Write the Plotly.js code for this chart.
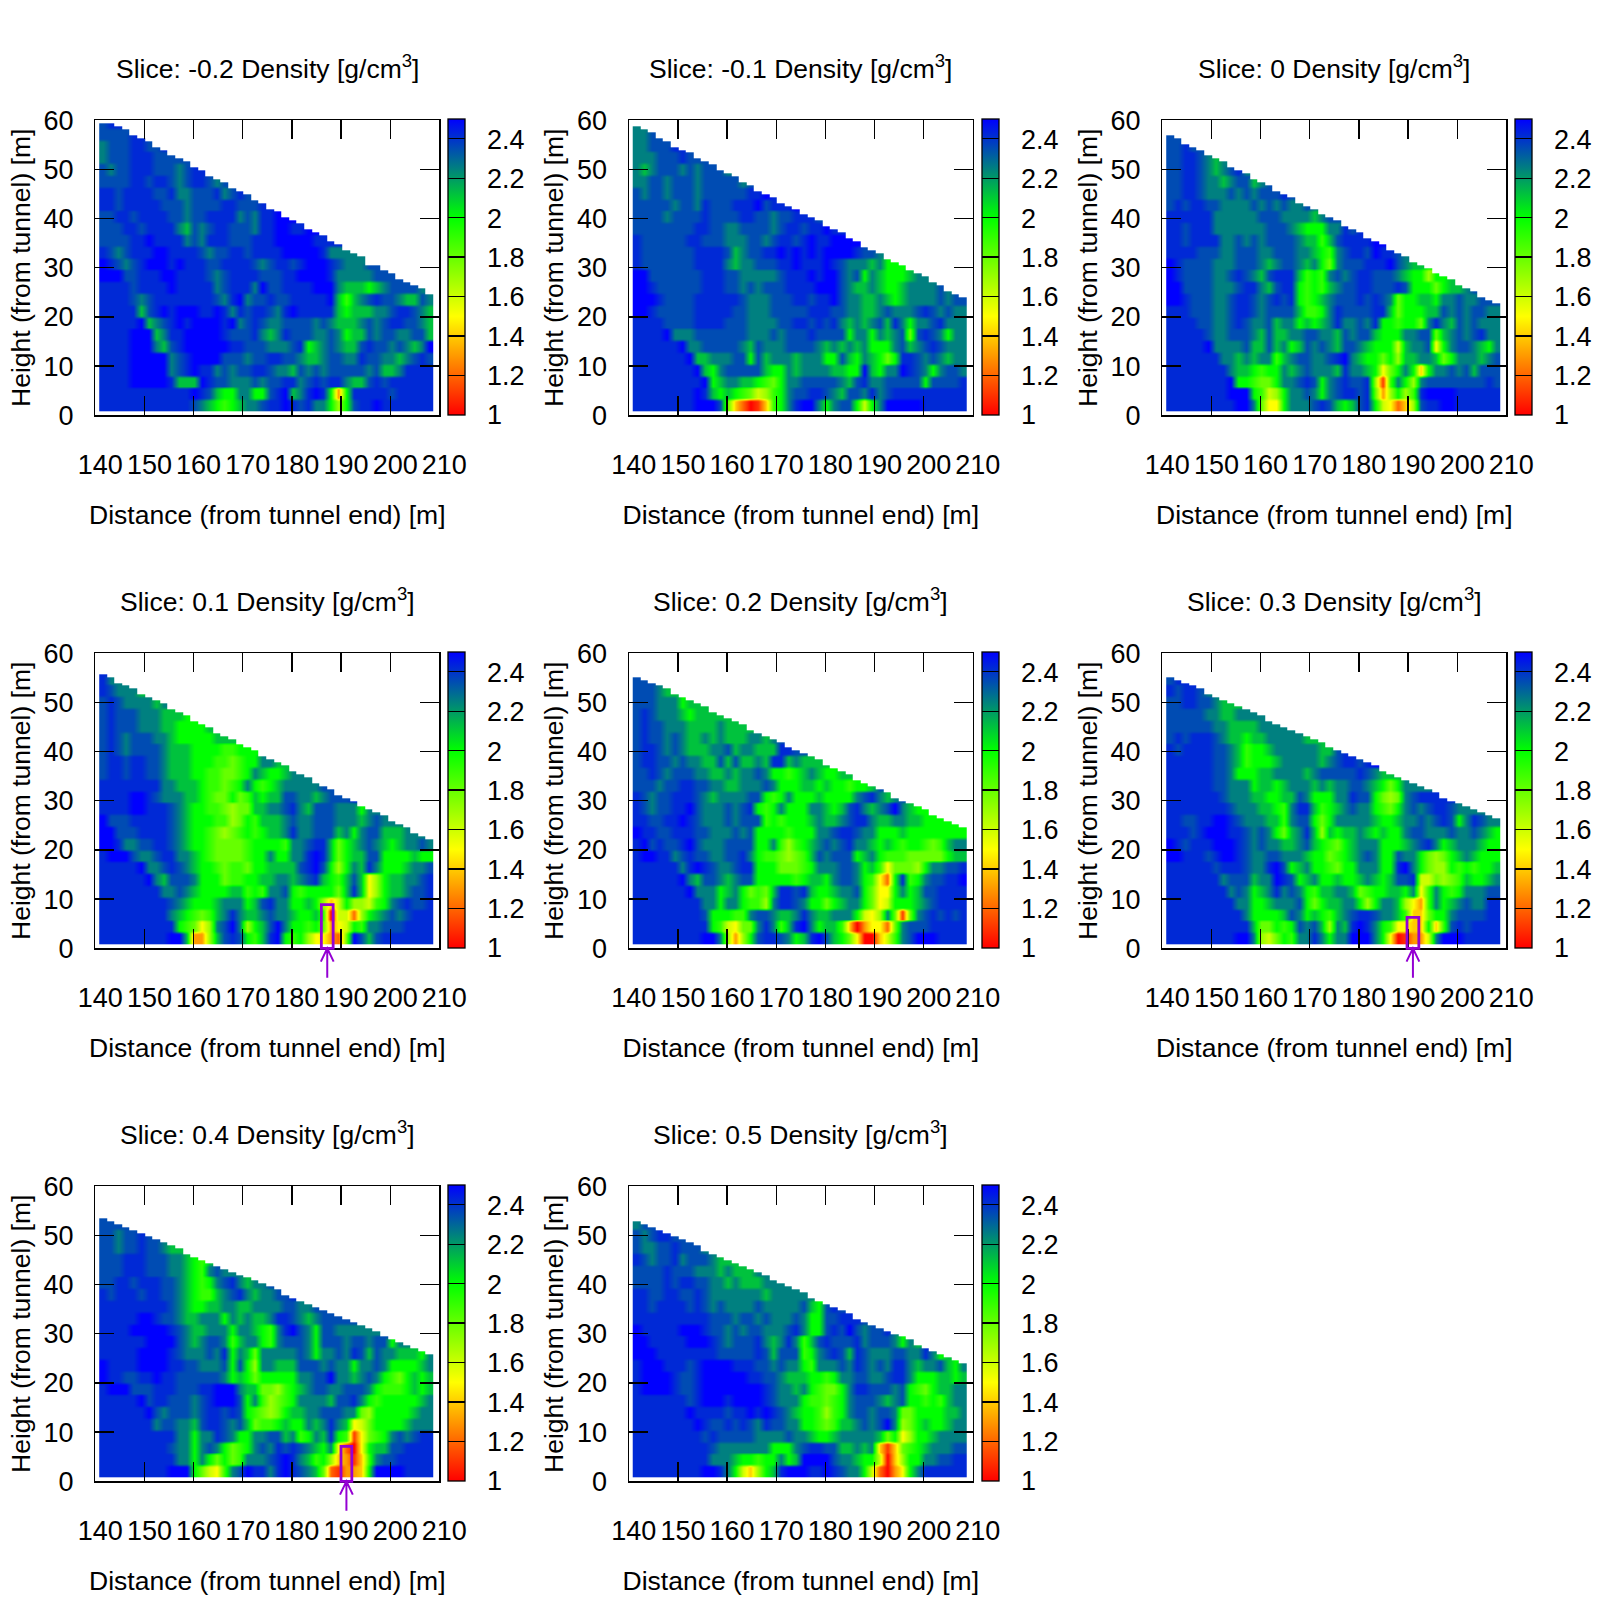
<!DOCTYPE html>
<html>
<head>
<meta charset="utf-8">
<script src="https://cdn.plot.ly/plotly-3.0.1.min.js"></script>
<style>body { margin: 0; background: #fff; }</style>
</head>
<body>
<div id="chart"></div>
<script>
// Slice positions, one panel each
const sliceLabels = ["-0.2", "-0.1", "0", "0.1", "0.2", "0.3", "0.4", "0.5"];
const xTicks = [140, 150, 160, 170, 180, 190, 200, 210];
const yTicks = [0, 10, 20, 30, 40, 50, 60];
const densityTicks = [1, 1.2, 1.4, 1.6, 1.8, 2, 2.2, 2.4];

// Density. One hex digit per cell, looked up in densityLevels.
// Rows run bottom to top in 2.4 m bands, columns left to right.
const densityLevels = [1, 1.1, 1.2, 1.3, 1.4, 1.5, 1.6, 1.7, 1.8, 1.9, 2, 2.12, 2.25, 2.35, 2.42, 2.5];
const sliceM02 = [
  "eeeeeeeeeeeedcba9abccdeefedecca7adeefeeeeeee",
  "eeeeeeeeeeeefedbaaccaadefbcefea3aeeeeedeeeee",
  "eeeefffffebbbfeddcccdcddeecdedeecbbdedeeeeee",
  "eeeefffffcdefeecdcddeedccbdcdcdddddcdbbceeee",
  "eeeefffffcdeffffdddcddeeddcbbcddcceddccbcded",
  "eeeefffcbdeffffffeedddcccdeabcdcbbdeddcdcbcf",
  "eeeefffbceefffffedddecbcedddccdcabbdcddccddb",
  "eeeeefbcdefeffffefcdedccddddcdcbbbcdcdeeddcb",
  "eeeeebdefefffeefecedeedcefeeeeebabbbccdeedcb",
  "eeeedcdeeeeeeeedcefcddeddeeeeefb9bcdeddcbbdc",
  "eeeedeeeefeeeeecdeeecfddeeeefffcbbbabcddddcc",
  "fffddeeeffeeeedcdeeeedddeeffffecccccdddddd",
  "fedcdefffefeeeddeeeedcdeedefffedcccdd",
  "edcdeeeffeeeedcddeedeeeefffffecccc",
  "ddddeefeeeecdceeedddeeefffffee",
  "dddeedeeeecbdcdeedddceeffeeff",
  "ddeedeeeeddcddeeeecdceefffe",
  "eedeeeeedddcddddeedddeee",
  "eedeeeeddeccdddecdedeee",
  "ddddeedeedcdeedcdeee",
  "dcddeeedddcdeeed",
  "cdddeeedddddee",
  "cdddeedde",
  "ddddee",
  "deee"
];
const sliceM01 = [
  "eeeeeeeefffd8420149aceffcacdda6acfffffeeeeee",
  "eeeeeeeefebaba98679acddeedcbddcecdeeeeeeeeee",
  "eeeeeeeeefabccbba98accdddddcbdeccdddddadddde",
  "eeeeeeeefbacdddddbaacbccccbbaafbaccfedcacddc",
  "eeeeeeefbbcccddadbcccbcccaadbacba8aeedcdcbcc",
  "eeeeeefccdddddcbdcccddddcbcbcbcaaacdbcdedccc",
  "eeeefcccdddddddcccdcdddeddddaccacbcd8dedcacc",
  "eeeeddddeeeedddccccddeededecbcbcdbecaccdeccc",
  "ffedddddeeeeeddcccdddddeeeddccbbcdcccdedcdcc",
  "fffeddddeeeeeedcccdddeedeefdccbbcbabccccdcdd",
  "ffeddddddeeeddcdcdddeeeefffdcbbcbaabccccdc",
  "ffdddddddeeeddcccccdeeefeffdcdacbaaabccc",
  "edddddddeeeecbccdddeefeeefedcccbcaaabbc",
  "edddddddeeeedbcddeefefefeffffeddcbaaa",
  "eddddddeedddcccddcdeedefeeffffffcb",
  "ddddddddeeddccddddcdeedeefeeeff",
  "ddddcddddeddddeeddcddeeedeefe",
  "dddddcddcedddeeefdeeeff",
  "dcddcdddcddddddeefeff",
  "ccddcdddcdddddcdff",
  "cbcdddcdcdddc",
  "cccdddedddd",
  "ccdddeed",
  "ccdde",
  "cd"
];
const slice00 = [
  "eeeeeeeeeffc855acccdedbabdea65247deeffeeeeee",
  "eeeeeeeefffa967accdcacdeede837a79effffeeeeee",
  "eeeeeeeefaa988accdedacdedde719ca7cdddddddded",
  "eeeeeeeecbba9aacbcdcccbeccba58aca4accdcdbddd",
  "eeeeeeeccbcbcc9bcddccdefcbaa8a7bbccb8acccbcd",
  "eeeeefccccdbbdbcabdcdcbddcbaaa6bccd5acddcbac",
  "eeeeedccdddcbdbbccddccbdcddbaaaccdd8bcdcdecc",
  "eeeeddccdedccdbccababceccdceaa9aa8cecbdcdccc",
  "eeedddccdeedcddddb99aceddddeeb8aaabbdcdcddcc",
  "ffedddccdeedcdedea9abcdddededc8aabbaccdccd",
  "ffddddcccdeecbdeea9a9bcddeedddedaaa8abbcdd",
  "feddddccdedcbdeeeb9a9cdcdeedddcbaa7aabccc",
  "feddddcccdddcbcddcbca8cdddeeefdcbbaaaabcc",
  "eeeedddccdddccdddccba9cdeedfeedcdbbaab",
  "eedeeeeccdcdcddddcbb9bdeeeeffeddcbb",
  "eedeeecccccccdddcbaaaccedeeff",
  "eeeeeeccccccdddccccbcddedee",
  "dedeeddccccdcdcdccdcded",
  "ddeedcccdcdcdddedcc",
  "ddeedccbcddbcdddcb",
  "ddeedcbcdecbc",
  "ddeedcbc",
  "ddedd",
  "dd"
];
const slice01 = [
  "eeeeeeeeeffb337bdeda9befa9a755328fdbdeeeeeee",
  "eeeeeeeeeea9857cdfc7abdfcaa9a8356a9ccdddeeee",
  "eeeeeeeeecba989bcecbbcdccbaab906627abcdcdeee",
  "eeeeeeeeedcbaaabcccabdeccaaba746a7769acdedde",
  "eeeeeeeeccdcbaaaabb9a9ccda9aaaa8beb57abbcdde",
  "eeeeeefcbdddcaaa899aabbccbcdeba9bdb57abbccde",
  "eeeeefccdedcbaa98998aabbbbdefda7acbecaaabccd",
  "efffdccdeeccba988889aacaaccefeb8abbddaaaabaa",
  "ffeccddeedcbaa988889aaaa9ccdeeb8abcdcbabccdc",
  "ffdddeeeedcbaa98789a9abbceccdddbcacddbbbcc",
  "fdddeeeeedcbaaa9978a9bbbcdccdddcccbcdcc",
  "eeeeffeeedcbaa998788bbccdecbdddcccac",
  "eeeeffedcccbba988a89babbddccbcddde",
  "eeeeeeeeccbbba9989aca9abcccccdd",
  "deedeeddcbbbaa99889acbaabccc",
  "deedeeddcbbbaaa9989aaccbbbb",
  "dedcddddcbbbaaaa99aaabb",
  "dedcdddccbaaaaabbb",
  "dedddcccbbaaaabb",
  "dedddcccbbba",
  "dedccccbcbba",
  "edcccbb",
  "ecc"
];
const slice02 = [
  "eeeeeeeeeffc737adeedcabefdba8500469cdfffeeee",
  "eeeeeeeeeea96588cec9befcabb94035528cdddeeeee",
  "eeeeeeeeedaaa99cddcbbcecbbccca657c818cdedede",
  "eeeeeeeeeccacca997ceedcaa8abcca856aaabcdeeee",
  "eeeeeeefcccabca898beedebaabccda855acabddeeee",
  "eeeeeefcbddcbcddaaaaa9abbacddca952ae9acddeef",
  "eeeeeecefedccdeeaaa8889acccddcab958887accdde",
  "effeecdeddccddeca998789bdcdddabca99988888abb",
  "efdeddefdcccddddaac979abcdcdeccbaba9aa989bcc",
  "feeddeeeddcccdcdaaaa9aaaccdeedccaaabaaaaaa",
  "eeddeefedcccdcddd9a9aaabcbbcdeecbbccbbaa",
  "edcddeefdcccdcdea9acaaaccbabdecbcdfcba",
  "edcddeeedcbccccdda9acaaabaaaacdecbcde",
  "dddcddeeddccbbcccdcaaabbabaa9aabde",
  "ddedcdddccbbcbccdcaa9abcbaabbbb",
  "deeddcdccbbdbdbbcbeebcbbb",
  "deedcdcbbbccdbccbbbeed",
  "deddcdcbbcbcbbbccbcd",
  "deddcccbbbbcbbbbb",
  "dedcccbabbbbb",
  "dddcccabbb",
  "dddcbbb",
  "ddd"
];
const slice03 = [
  "eeeeeeeeeffc768a9ccecaccfffca501336cfffeeeee",
  "eeeeeeeeeeeb88a9adcdb7cbefeca95544a49dedeeee",
  "eeeeeeeeeecaaaabdcaba9bcdeedccb9448aacddddee",
  "eeeeeeeeeccaabcccda8abbcca7accb7539cabcdccee",
  "eeeeeeeecdcabcecdca9bbccb89aabbac59ca9acccdd",
  "eeeeeeecdddbccfedabcaabaabcbabdde668789baabc",
  "eeeeeedeeedccefdabcaa98aacccaaefca877a9a9aab",
  "ffeeedeffedccddcccbaa89abcdcaadcca878abcbaaa",
  "fedeeefffedcdccbbcdba98abcccaaabcdecabcccbaa",
  "eeedefffeedcdca8bceb7babbcbabaacddcccdccdcba",
  "eeddeeffedcccbb9cdda8acccccbaabccdcdedacedcc",
  "eeeeeeeedcccbba9ceeb9abcdcca98acdcdeedc",
  "eeeeeeedcccbbaabbdcaaaccedda878cdeee",
  "eeeeeeddcccabbabcccbcbccddcba8ac",
  "eeeeeeddcaaabbccccbcdddddedcb",
  "eeeeeeddcb9aaabcccccbcdeedefdc",
  "edeeeeddcb9aabccccccbbdeeeee",
  "dedeeedcbbabbcccccbbbb",
  "ddddddccbbbbccccccc",
  "dddddccbbcccccc",
  "ddeeddcbbbc",
  "edeedcc",
  "dee"
];
const slice04 = [
  "eeeeeeeeefffa8659cdfeecefedcb821334affffeeee",
  "eeeeeeeeeeccaca8a89cccdefecb9a743149cddeeeee",
  "eeeeeeeeedccacdca89acdcededcbac5205abbddeeee",
  "eeeeeeeeeeccaccedcaaccddbc9acbea91589acdcdee",
  "eeeeeeecddccbdeedcdb899abaacbcecb568aaaabccc",
  "eeeeeefdcdddcdeededa9878abbccdddcc87aaaaabcc",
  "eeeeefdeedddcdefffdac9789accccbddeca9aaaaabc",
  "efffdddeeedddeefffcbb8879abcddccdddca999abab",
  "feeddeefeeddddddcaba8aaaaaccddfccbcdca98abab",
  "feeeeffffeeddcccdada7ccbbbdddcdccaccdcaaaabc",
  "eeeeeffffedcccdceacb8cccccdcaccdcedbdccbbbac",
  "eeeeeeffffdcbcddc9bcca9cdddcadddcddcddaccd",
  "eeeefffffedcbbcccaccba9cefdcaddcccccc",
  "eeeeeffeddcbbcccacbcbbceedcbcdddd",
  "eeeeeeeeedcbaabbccbbccccddccdd",
  "edeeedeeddcba99bcdecbccdde",
  "ddeedeeeddcba9acdecbccd",
  "dddeeedddccba9cdcccc",
  "dddeeedddccba9bcc",
  "ddcddeddcbbb",
  "ddcddedd",
  "dddd"
];
const slice05 = [
  "eeeeeeeeeffeca647abefffeefedcca62035aceeeeee",
  "eeeeeeeeeecccbaa9aacabffffdccbaa6047aaccddee",
  "eeeeeeeeeedcccccccaaacdeeddbbcbc41489abcccdd",
  "eeeeeeeeededddddccccdccbaabcccccb8a57aabcccc",
  "eeeeeeeefeddededceddccaa989bbcdcdfc78abaabcc",
  "eeeeeeefeeeedeefefedcbaa979acddcddc88aaaabbc",
  "eeeeeeedefffeffffedccca9989acdddcbcdaa9a9bcc",
  "effffeddeffffffffedccbca988aceedddcda98abbcc",
  "effffeddeffffffeeddcbbbaa9accddccdeecaaabbab",
  "efffeeedeffffeeeddcdcca9cccdcedcdceecbccdbac",
  "fffeeeeeeeedddddedbddd9acdedbedcccddccecabac",
  "ffeeeeefffedcdddecbcec9bdedddecdddcacbbcb",
  "feeeeefffeddcdcddcccdecaadedfdcddecab",
  "eeeeeeeeeedddcddcdcccdcaaddeeedddeeec",
  "eedeeeededcdccccdcccccdbadedeeed",
  "eeddeeddedcccccccbccccccaacdeeed",
  "ddddedeeddccbcbbbcccccbbce",
  "ddddedddcccbcbbbccccd",
  "edcddecdddcbbbbc",
  "dccddedddc",
  "dcdeeddd",
  "cddee"
];
const sliceRows = [sliceM02, sliceM01, slice00, slice01, slice02, slice03, slice04, slice05];

// Height of the ground surface over each of the 44 columns, per slice
const topM02 = [59.7, 59.7, 59.2, 58.6, 57.2, 56.7, 56, 54.7, 54, 52.8, 52.2, 51.5, 50.3, 49.8, 48.6, 48, 47.4, 46.2, 45.6, 45, 43.8, 43.2, 42, 41.5, 40.4, 39.8, 39.2, 38, 37.4, 36.8, 35.6, 35, 33.6, 33, 32.4, 31, 30.6, 29.4, 28.8, 27.6, 27, 26.4, 25.8, 24.6];
const topM01 = [59.2, 58.6, 58, 56.8, 56.1, 55, 54.4, 53.8, 52.6, 52, 51.4, 50.1, 49.5, 48.9, 47.7, 47.1, 45.9, 45.3, 44.7, 43.5, 42.9, 42.3, 41.1, 40.5, 39.9, 38.7, 38.1, 37.5, 36.3, 35.7, 34.5, 33.9, 33.3, 32.1, 31.5, 30.9, 29.7, 29.1, 28.5, 27.3, 26.7, 25.5, 24.9, 24.3];
const top00 = [57.4, 56.8, 55.5, 55, 54.3, 53.1, 52.5, 51.9, 50.7, 50.1, 49.5, 48.3, 47.7, 47.1, 45.9, 45.3, 44.7, 43.5, 42.9, 42.3, 41.1, 40.5, 39.9, 38.7, 38.1, 37.5, 36.3, 35.7, 35.1, 33.9, 33.3, 32.7, 31.5, 30.9, 30.3, 29.1, 28.5, 27.9, 26.7, 26.1, 25.5, 24.3, 23.7, 23.1];
const top01 = [56.1, 55.5, 54.3, 53.7, 53, 51.9, 51.3, 50.7, 50.1, 48.9, 48.3, 47.7, 46.5, 45.9, 45.3, 44.1, 43.5, 42.9, 41.7, 41.1, 40.5, 39.3, 38.7, 38.1, 37.5, 36.3, 35.7, 35.1, 33.9, 33.3, 32.7, 31.5, 30.9, 30.3, 29.1, 28.5, 27.9, 27.3, 26.1, 25.5, 24.9, 23.7, 23.1, 22.5];
const top02 = [55.5, 54.9, 54.3, 53.7, 53, 51.9, 51.3, 50.7, 50.1, 49.5, 48.3, 47.7, 47.1, 46.5, 45.9, 44.7, 44.1, 43.5, 42.9, 42.3, 41.1, 40.5, 39.9, 39.3, 38.7, 37.5, 36.9, 36.3, 35.7, 34.5, 33.9, 33.3, 32.7, 32.1, 30.9, 30.3, 29.7, 29.1, 28.5, 27.3, 26.7, 26.1, 25.5, 24.9];
const top03 = [55.5, 54.9, 54.3, 53.7, 53, 51.9, 51.3, 50.7, 50.1, 49.5, 48.9, 48.3, 47.7, 46.5, 45.9, 45.3, 44.7, 44.1, 43.5, 42.9, 42.3, 41.1, 40.5, 39.9, 39.3, 38.7, 38.1, 37.5, 36.3, 35.7, 35.1, 34.5, 33.9, 33.3, 32.7, 32.1, 30.9, 30.3, 29.7, 29.1, 28.5, 27.9, 27.3, 26.7];
const top04 = [53.6, 53, 52.4, 51.8, 51.2, 50.5, 49.9, 49.3, 48.7, 48.1, 47.5, 46.4, 45.7, 45.1, 44.5, 43.9, 43.3, 42.7, 42.1, 41.5, 40.9, 40.3, 39.7, 39.1, 37.9, 37.3, 36.7, 36.1, 35.5, 34.9, 34.3, 33.7, 33.1, 32.5, 31.9, 31.3, 30.7, 29.5, 28.9, 28.3, 27.7, 27.1, 26.5, 25.9];
const top05 = [52.9, 52.3, 51.7, 51.2, 50.5, 49.9, 49.3, 48.7, 48.1, 47, 46.4, 45.7, 45.1, 44.5, 43.9, 43.3, 42.7, 42.1, 40.9, 40.3, 39.7, 39.1, 38.5, 37.3, 36.7, 36.1, 35.5, 34.9, 34.3, 33.1, 32.5, 31.9, 31.3, 30.7, 30.1, 29.5, 28.9, 27.7, 27.1, 26.5, 25.9, 25.3, 24.7, 24.1];
const sliceTops = [topM02, topM01, top00, top01, top02, top03, top04, top05];

// Purple marker boxes: which panel, left and right distance, box height
const boxPanels = [3, 5, 6];
const boxLeft = [186, 189.8, 190];
const boxRight = [188.4, 192.2, 192.2];
const boxTop = [8.9, 6.3, 7.1];

const densityColors = [
  [0, "#ff0000"],
  [1 / 3, "#ffff00"],
  [2 / 3, "#00ff00"],
  [1, "#0000ff"]
];

const PAGE = 1600;
const COL_LEFT = [95.3, 628.8, 1162.3];
const ROW_TOP = [120.3, 653.3, 1186.3];
const PANEL_W = 344;
const PANEL_H = 295;
const CELL_W = 1.545;
const CELL_H = 0.6;
const FIRST_X = 140.8;
const FIRST_Y = 0.8;
const CELLS_PER_BAND = 4;
const FAMILY = "Liberation Sans, Arial, sans-serif";
const TEXT_FONT = { family: FAMILY, size: 26.5, color: "#000" };
const TICK_FONT = { family: FAMILY, size: 27, color: "#000" };
const PURPLE = "#9400d3";

const buildGrid = (rows, tops) => {
  const grid = [];
  for (let j = 0; j < 100; j++) {
    const band = rows[Math.min(Math.floor(j / CELLS_PER_BAND), rows.length - 1)];
    const line = tops.map((top, col) => {
      const cellsHigh = Math.round((top - FIRST_Y) / CELL_H);
      if (j >= cellsHigh) return null;
      return densityLevels[parseInt(band[Math.min(col, band.length - 1)], 16)];
    });
    grid.push(line);
  }
  return grid;
};

const paperY = (panel, height) => {
  const top = ROW_TOP[Math.floor(panel / 3)];
  return 1 - (top + PANEL_H * (1 - height / 60)) / PAGE;
};

const traces = [];
const annotations = [];
const shapes = [];
const layout = {
  width: PAGE,
  height: PAGE,
  margin: { t: 0, r: 0, b: 0, l: 0 },
  paper_bgcolor: "#fff",
  plot_bgcolor: "#fff",
  showlegend: false,
  font: TEXT_FONT,
  annotations: annotations,
  shapes: shapes
};

sliceLabels.forEach((label, i) => {
  const left = COL_LEFT[i % 3];
  const top = ROW_TOP[Math.floor(i / 3)];
  const id = i === 0 ? "" : String(i + 1);

  traces.push({
    type: "heatmap",
    x0: FIRST_X + CELL_W / 2,
    dx: CELL_W,
    y0: FIRST_Y + CELL_H / 2,
    dy: CELL_H,
    z: buildGrid(sliceRows[i], sliceTops[i]),
    xaxis: "x" + id,
    yaxis: "y" + id,
    zmin: 1,
    zmax: 2.5,
    zsmooth: "best",
    colorscale: densityColors,
    hoverinfo: "skip",
    colorbar: {
      x: (left + 353) / PAGE,
      xanchor: "left",
      xpad: 0,
      y: 1 - (top - 1.3) / PAGE,
      yanchor: "top",
      ypad: 0,
      len: (PANEL_H + 1.3) / PAGE,
      lenmode: "fraction",
      thickness: 17.4,
      thicknessmode: "pixels",
      outlinecolor: "#000",
      outlinewidth: 1.3,
      tickmode: "array",
      tickvals: densityTicks,
      ticks: "inside",
      ticklen: 17.4,
      tickwidth: 1.3,
      tickcolor: "#000",
      showticklabels: false
    }
  });

  // Colour bar labels sit well clear of the bar, so they are placed by hand
  densityTicks.forEach((d) => {
    annotations.push({
      xref: "paper",
      yref: "paper",
      x: (left + 390) / PAGE,
      y: 1 - (top + PANEL_H * (2.5 - d) / 1.5) / PAGE,
      xanchor: "left",
      yanchor: "middle",
      showarrow: false,
      font: TICK_FONT,
      text: String(d)
    });
  });

  layout["xaxis" + id] = {
    domain: [left / PAGE, (left + PANEL_W) / PAGE],
    anchor: "y" + id,
    range: [140, 210],
    tickmode: "array",
    tickvals: xTicks,
    ticks: "inside",
    ticklen: 19,
    tickwidth: 1.3,
    tickcolor: "#000",
    ticklabelstandoff: 25,
    ticklabelshift: 5,
    showline: true,
    linecolor: "#000",
    linewidth: 1.3,
    mirror: "ticks",
    showgrid: false,
    zeroline: false,
    tickfont: TICK_FONT,
    title: { text: "Distance (from tunnel end) [m]", font: TEXT_FONT, standoff: 26 }
  };
  layout["yaxis" + id] = {
    domain: [1 - (top + PANEL_H) / PAGE, 1 - top / PAGE],
    anchor: "x" + id,
    range: [0, 60],
    tickmode: "array",
    tickvals: yTicks,
    ticks: "inside",
    ticklen: 19,
    tickwidth: 1.3,
    tickcolor: "#000",
    ticklabelstandoff: 15,
    showline: true,
    linecolor: "#000",
    linewidth: 1.3,
    mirror: "ticks",
    showgrid: false,
    zeroline: false,
    tickfont: TICK_FONT,
    title: { text: "Height (from tunnel) [m]", font: TEXT_FONT, standoff: 5 }
  };

  annotations.push({
    xref: "paper",
    yref: "paper",
    x: (left + PANEL_W / 2) / PAGE,
    y: 1 - (top - 53) / PAGE,
    xanchor: "center",
    yanchor: "middle",
    showarrow: false,
    font: TEXT_FONT,
    text: "Slice: " + label + " Density [g/cm<sup>3</sup>]"
  });
});

// Marker boxes and the arrows pointing up at them
boxPanels.forEach((panel, k) => {
  const xref = "x" + (panel === 0 ? "" : String(panel + 1));
  const mid = (boxLeft[k] + boxRight[k]) / 2;
  const floor = paperY(panel, 0);
  const roof = paperY(panel, boxTop[k]);
  const tail = paperY(panel, -6);
  const barb = paperY(panel, -2.7);
  shapes.push({
    type: "rect", xref: xref, yref: "paper",
    x0: boxLeft[k], x1: boxRight[k], y0: floor, y1: roof,
    line: { color: PURPLE, width: 2.8 }
  });
  shapes.push({
    type: "path", xref: xref, yref: "paper",
    path: `M ${mid} ${tail} L ${mid} ${floor} M ${mid - 1.3} ${barb} L ${mid} ${floor} L ${mid + 1.3} ${barb}`,
    line: { color: PURPLE, width: 2 }
  });
});

Plotly.newPlot("chart", traces, layout, { displayModeBar: false, staticPlot: true });
</script>
</body>
</html>
